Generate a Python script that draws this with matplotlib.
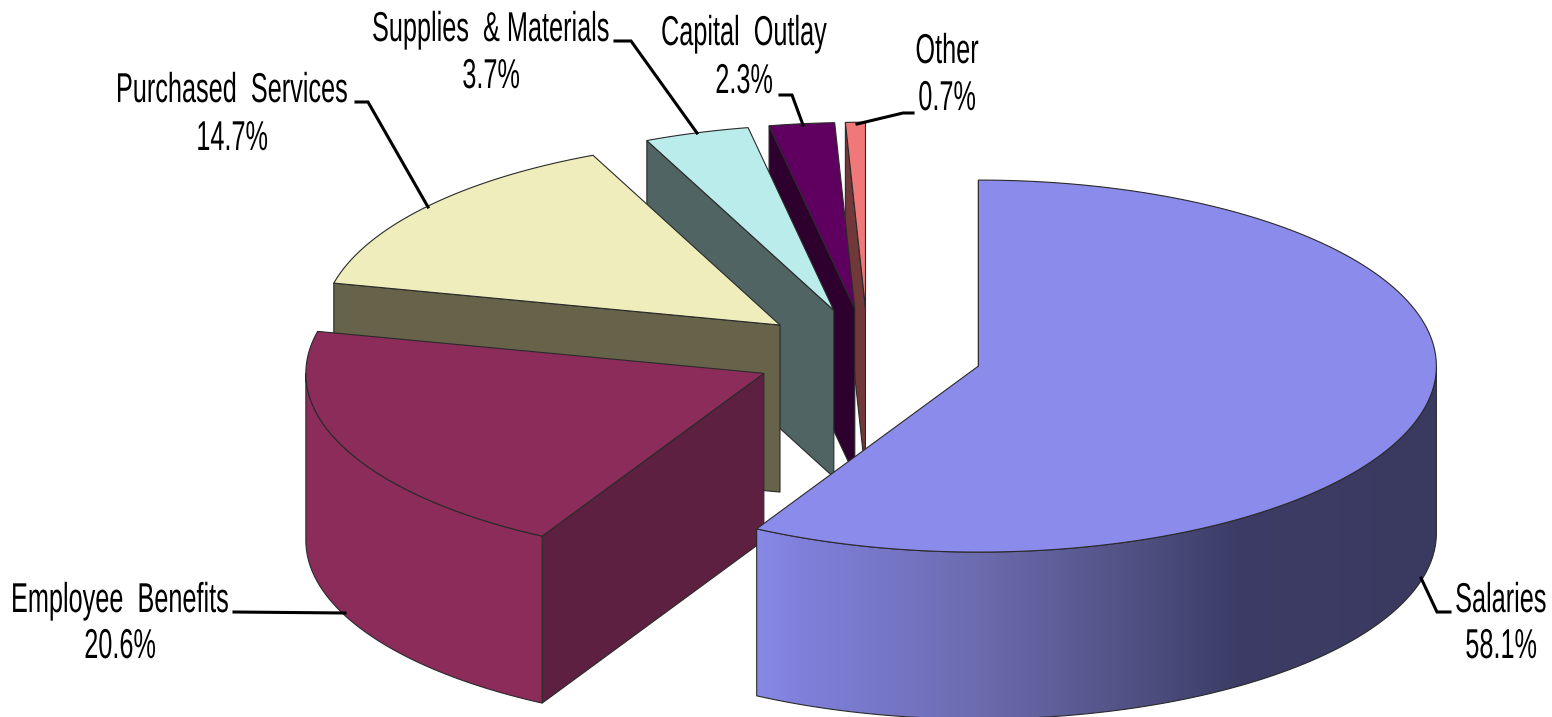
import matplotlib
matplotlib.use("Agg")
import matplotlib.pyplot as plt
import matplotlib.patheffects as pe
import numpy as np
from matplotlib.colors import LinearSegmentedColormap
from matplotlib.patches import Polygon
from matplotlib.transforms import Affine2D

categories = ["Salaries", "Employee  Benefits", "Purchased  Services",
              "Supplies  & Materials", "Capital  Outlay", "Other"]
shares = [58.1, 20.6, 14.7, 3.7, 2.3, 0.7]

top_colors = ["#8B8BEB", "#8B2C5B", "#EEEDBB", "#BBECEC", "#5F0060", "#F07878"]
wall_colors = ["#3A3A66", "#5E2040", "#66634A", "#506464", "#2E002E", "#703838"]

# pie geometry in pixels
CX, CY = 868.0, 354.5
RX, RY = 458.0, 186.0
DEPTH = 167.0
EXPLODE = 114.0
EDGE = "#2a2a2a"

# labels are tall and narrow, so the glyphs get stretched upward
STRETCH = 1.65

# label centre x, baseline of the name line, baseline of the percent line
label_pos = [(1501, 612, 658), (120, 612, 658), (232, 102, 150),
             (491, 41, 88), (744, 45, 93), (947, 63, 110)]
# leader lines
leaders = [[(1421, 578), (1437, 612), (1450, 612)],
           [(234, 612), (345, 613)],
           [(356, 102), (368, 102), (428, 207)],
           [(615, 41), (631, 41), (697, 133)],
           [(780, 95), (792, 95), (803, 125)],
           [(913, 113), (903, 113), (857, 124)]]


class Stretch(pe.AbstractPathEffect):
    def draw_path(self, renderer, gc, tpath, affine, rgbFace=None):
        renderer.draw_path(gc, tpath, Affine2D().scale(1, STRETCH) + affine, rgbFace)


def rim_xy(center, angles):
    return (center[0] + RX * np.sin(angles), center[1] - RY * np.cos(angles))


def draw_wedge(ax, i, start, end, z):
    mid = (start + end) / 2
    center = (CX + EXPLODE * np.sin(mid), CY - EXPLODE * np.cos(mid) * RY / RX)

    # flat wall along the starting radius
    sx, sy = rim_xy(center, start)
    wall = [center, (sx, sy), (sx, sy + DEPTH), (center[0], center[1] + DEPTH)]
    ax.add_patch(Polygon(wall, facecolor=wall_colors[i], edgecolor=EDGE, lw=0.8, zorder=z))

    # curved outer side, only the part facing the viewer
    a0, a1 = max(start, np.pi / 2), min(end, 3 * np.pi / 2)
    if a1 > a0:
        t = np.linspace(a0, a1, 200)
        x, y = rim_xy(center, t)
        side = np.r_[np.c_[x, y], np.c_[x, y + DEPTH][::-1]]
        if i == 0:
            # the big slice gets a light to dark shading from left to right
            shade = LinearSegmentedColormap.from_list(
                "shade", [(0, "#8888E6"), (0.06, "#8080DC"), (0.32, "#6C6CB0"),
                          (0.52, "#55558A"), (0.71, "#3C3C66"), (1, "#3A3A60")])
            outline = Polygon(side, facecolor="none", edgecolor=EDGE, lw=0.8, zorder=z + 0.2)
            ax.add_patch(outline)
            im = ax.imshow(np.linspace(0, 1, 256)[None, :], cmap=shade, aspect="auto",
                           extent=(x.min(), x.max(), y.max() + DEPTH, y.min()), zorder=z + 0.1)
            im.set_clip_path(outline)
        else:
            ax.add_patch(Polygon(side, facecolor=top_colors[i], edgecolor=EDGE, lw=0.8, zorder=z + 0.1))

    # top face
    t = np.linspace(start, end, 200)
    x, y = rim_xy(center, t)
    top = np.r_[[center], np.c_[x, y]]
    ax.add_patch(Polygon(top, facecolor=top_colors[i], edgecolor=EDGE, lw=0.8, zorder=z + 0.3))


def add_label(ax, x, y, s):
    ax.text(x, y, s, ha="center", va="baseline", fontsize=18.2, family="Liberation Sans",
            color="black", zorder=20, path_effects=[Stretch()])


fig = plt.figure(figsize=(15.52, 7.17), dpi=100)
ax = fig.add_axes([0, 0, 1, 1])

edges = np.r_[0, np.cumsum(shares)] / sum(shares) * 2 * np.pi

# back slices first so the front ones sit on top
for n, i in enumerate(range(len(shares) - 1, -1, -1)):
    draw_wedge(ax, i, edges[i], edges[i + 1], n + 1)

for i, name in enumerate(categories):
    lx, y1, y2 = label_pos[i]
    add_label(ax, lx, y1, name)
    add_label(ax, lx, y2, f"{shares[i]}%")
    pts = np.array(leaders[i])
    ax.plot(pts[:, 0], pts[:, 1], color="black", lw=2.2, solid_joinstyle="miter", zorder=19)

ax.set_xlim(0, 1552)
ax.set_ylim(717, 0)
ax.axis("off")

fig.savefig("out.png", dpi=100)
